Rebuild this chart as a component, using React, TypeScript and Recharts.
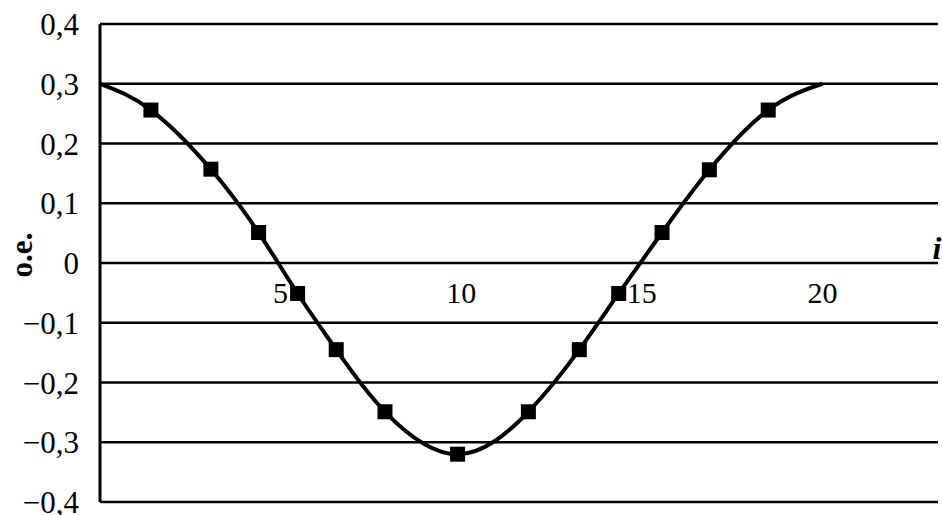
import {
  CartesianGrid,
  ComposedChart,
  Line,
  ReferenceDot,
  Scatter,
  XAxis,
  YAxis,
} from "recharts";

// Measured points i -> value (o.e.)
const markerI = [1.41, 3.07, 4.39, 5.47, 6.54, 7.89, 9.9, 11.86, 13.27, 14.36, 15.56, 16.87, 18.5];
const markerV = [0.256, 0.157, 0.051, -0.051, -0.145, -0.249, -0.32, -0.249, -0.145, -0.051, 0.051, 0.156, 0.256];

// Curve end points (no marker drawn there)
const startPoint = { i: 0, v: 0.3 };
const endPoint = { i: 20, v: 0.3 };

const xTicks = [5, 10, 15, 20];
const yTicks = [-0.4, -0.3, -0.2, -0.1, 0, 0.1, 0.2, 0.3, 0.4];
const X_MAX = 23.2;

const FONT = '"Liberation Serif", "Times New Roman", serif';

const markers = markerI.map((i, k) => ({ i, v: markerV[k] }));
const curve = [startPoint, ...markers, endPoint];

function formatY(v: number) {
  if (Math.abs(v) < 1e-9) return "0";
  const s = Math.abs(v).toFixed(1).replace(".", ",");
  return v < 0 ? "\u2212" + s : s;
}

function SquareMarker(props: any) {
  const { cx, cy } = props;
  return <rect x={cx - 7.5} y={cy - 7.5} width={15} height={15} fill="#000" />;
}

export default function App() {
  return (
    <div style={{ position: "absolute", left: 0, top: 0, background: "#fff" }}>
      <ComposedChart
        width={942}
        height={515}
        data={curve}
        margin={{ top: 24, right: 4, bottom: 13, left: 0 }}
      >
        <CartesianGrid
          vertical={false}
          horizontalValues={yTicks}
          stroke="#000"
          strokeWidth={2.5}
        />
        {/* bottom edge of the plot doubles as the -0,4 line */}
        <XAxis
          type="number"
          dataKey="i"
          domain={[0, X_MAX]}
          height={0}
          tick={false}
          tickLine={false}
          axisLine={{ stroke: "#000", strokeWidth: 2.5 }}
        />
        <YAxis
          type="number"
          dataKey="v"
          domain={[-0.4, 0.4]}
          ticks={yTicks}
          interval={0}
          width={100}
          tickSize={0}
          tickMargin={21}
          tickFormatter={formatY}
          axisLine={{ stroke: "#000", strokeWidth: 3 }}
          tick={{ fill: "#000", fontSize: 31, fontFamily: FONT }}
          label={{
            content: (p: any) => {
              const vb = p.viewBox;
              const cx = 21;
              const cy = vb.y + vb.height / 2 - 8;
              return (
                <text
                  x={cx}
                  y={cy}
                  transform={`rotate(-90 ${cx} ${cy})`}
                  textAnchor="middle"
                  dominantBaseline="central"
                  fontFamily={FONT}
                  fontWeight="bold"
                  fontSize={31}
                  fill="#000"
                >
                  o.e.
                </text>
              );
            },
          }}
        />
        <Line
          type="natural"
          dataKey="v"
          stroke="#000"
          strokeWidth={4}
          dot={false}
          activeDot={false}
          isAnimationActive={false}
        />
        <Scatter
          data={markers}
          dataKey="v"
          fill="#000"
          shape={SquareMarker}
          isAnimationActive={false}
        />
        {xTicks.map((t) => (
          <ReferenceDot
            key={t}
            x={t}
            y={0}
            r={0}
            fill="none"
            stroke="none"
            label={{
              content: (p: any) => (
                <text
                  x={p.viewBox.x}
                  y={p.viewBox.y + 40}
                  textAnchor="middle"
                  fontFamily={FONT}
                  fontSize={30}
                  fill="#000"
                >
                  {t}
                </text>
              ),
            }}
          />
        ))}
        <ReferenceDot
          x={X_MAX}
          y={0}
          r={0}
          fill="none"
          stroke="none"
          label={{
            content: (p: any) => (
              <text
                x={p.viewBox.x - 1}
                y={p.viewBox.y - 4}
                textAnchor="middle"
                fontFamily={FONT}
                fontStyle="italic"
                fontWeight="bold"
                fontSize={32}
                fill="#000"
              >
                i
              </text>
            ),
          }}
        />
      </ComposedChart>
    </div>
  );
}
